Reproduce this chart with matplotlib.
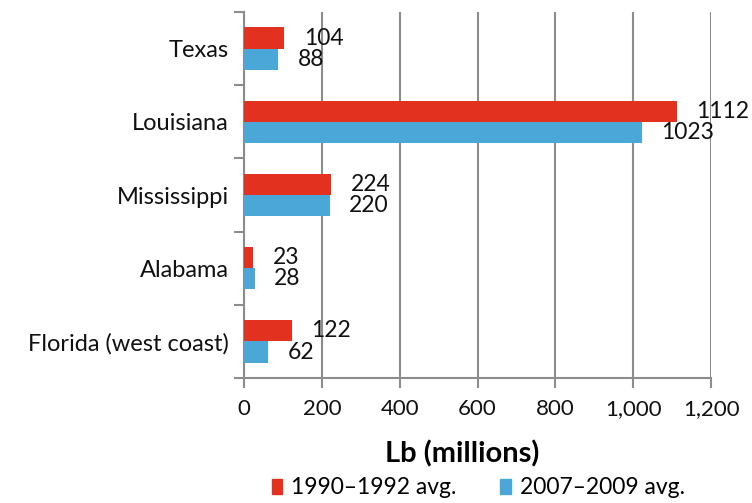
import numpy as np
import matplotlib
matplotlib.use("Agg")
import matplotlib.pyplot as plt
from matplotlib.patches import Patch

states = ["Texas", "Louisiana", "Mississippi", "Alabama", "Florida (west coast)"]
avg_1990_1992 = [104, 1112, 224, 23, 122]
avg_2007_2009 = [88, 1023, 220, 28, 62]
series_labels = ["1990\u20131992 avg.", "2007\u20132009 avg."]
x_ticks = [0, 200, 400, 600, 800, 1000, 1200]

RED = "#E2311F"
BLUE = "#4BA7D8"
GRID = "#8C8C8C"

plt.rcParams["font.family"] = ["Lato", "DejaVu Sans"]

fig = plt.figure(figsize=(7.52, 5.03), dpi=100)
ax = fig.add_axes([0.3245, 0.2485, 0.621, 0.7275])

y = np.arange(len(states))
h = 0.29
bars_a = ax.barh(y - h / 2, avg_1990_1992, height=h, color=RED, zorder=3)
bars_b = ax.barh(y + h / 2, avg_2007_2009, height=h, color=BLUE, zorder=3)

for bars, vals in [(bars_a, avg_1990_1992), (bars_b, avg_2007_2009)]:
    for b, v in zip(bars, vals):
        ax.annotate(str(v), (b.get_width(), b.get_y() + b.get_height() / 2),
                    xytext=(14, 0), textcoords="offset points",
                    ha="left", va="center", fontsize=16.5, color="#111111",
                    annotation_clip=False)

ax.set_xlim(0, 1200)
ax.set_ylim(len(states) - 0.5, -0.5)
ax.set_xticks(x_ticks)
ax.set_xticklabels([f"{t:,}" for t in x_ticks], fontsize=16, color="#111111")

# category boundaries carry the ticks, names sit at the centres
ax.set_yticks(np.arange(len(states) + 1) - 0.5)
ax.set_yticklabels([])
ax.set_yticks(y, minor=True)
ax.set_yticklabels(states, minor=True, fontsize=17, color="#111111")
ax.tick_params(axis="y", which="minor", length=0, pad=11)
ax.tick_params(axis="y", which="major", length=7, width=1.5, color=GRID)
ax.tick_params(axis="x", length=7, width=1.5, color=GRID, pad=8)

ax.grid(axis="x", color=GRID, linewidth=1.5, zorder=0)
for s in ["top", "right"]:
    ax.spines[s].set_visible(False)
for s in ["left", "bottom"]:
    ax.spines[s].set_color(GRID)
    ax.spines[s].set_linewidth(1.5)

ax.set_xlabel("Lb (millions)", fontsize=21, fontweight="bold")
ax.xaxis.set_label_coords(0.467, -0.17)

handles = [Patch(color=RED), Patch(color=BLUE)]
fig.legend(handles, series_labels, loc="lower center", ncol=2,
           bbox_to_anchor=(0.636, -0.032), frameon=False, fontsize=16.5,
           handlelength=0.45, handleheight=0.6, handletextpad=0.4, columnspacing=1.9)

fig.savefig("out.png", dpi=100)
